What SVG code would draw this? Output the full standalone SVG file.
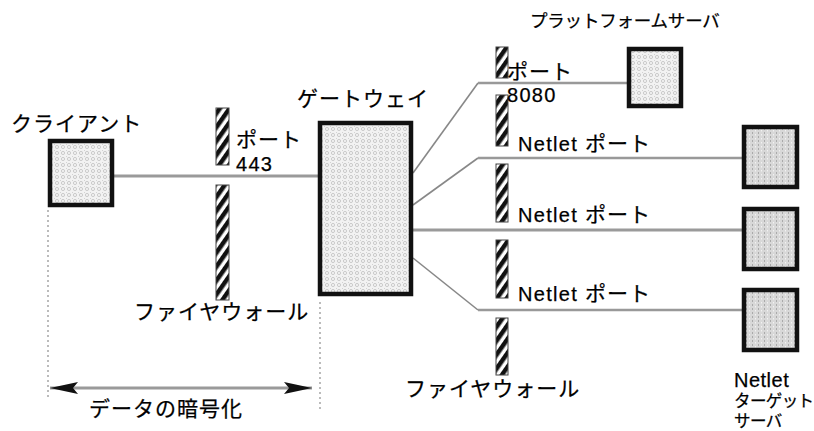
<svg xmlns="http://www.w3.org/2000/svg" width="814" height="431" viewBox="0 0 814 431">
<defs>
<pattern id="stripe" patternUnits="userSpaceOnUse" width="8" height="8" patternTransform="rotate(35)">
<rect width="8" height="8" fill="#fff"/>
<rect width="4.5" height="8" fill="#111"/>
</pattern>
<pattern id="dots" patternUnits="userSpaceOnUse" width="6" height="6">
<rect width="6" height="6" fill="#f2f2f2"/>
<circle cx="3" cy="3" r="1.6" fill="none" stroke="#c0c0c0" stroke-width="0.8"/>
<circle cx="0" cy="0" r="0.7" fill="#999"/>
</pattern>
<pattern id="vdots" patternUnits="userSpaceOnUse" width="6" height="4">
<rect width="6" height="4" fill="#d8d8d8"/>
<rect x="2" y="0" width="1" height="2" fill="#aaa"/>
<rect x="5" y="2" width="1" height="1.5" fill="#f2f2f2"/>
</pattern>
<marker id="ah" viewBox="0 0 28 12" refX="28" refY="6" markerWidth="28" markerHeight="12" markerUnits="userSpaceOnUse" orient="auto-start-reverse">
<path d="M0,0 L28,6 L0,12 L5,6 Z" fill="#111"/>
</marker>
<style>
text{font-family:"Liberation Sans","Noto Sans CJK JP",sans-serif;font-size:21px;letter-spacing:1px;fill:#000;stroke:#000;stroke-width:0.25}
.lat{font-size:20px;letter-spacing:1.3px}
.sm{font-size:16.5px;letter-spacing:-0.6px}
.box{stroke:#111;stroke-width:4.5}
.fw{fill:url(#stripe);stroke:#444;stroke-width:1}
.ln{fill:none;stroke:#9a9a9a;stroke-width:3}
.hl{fill:none;stroke:#999;stroke-width:2.5}
.thin{fill:none;stroke:#888;stroke-width:1.6}
.dot{fill:none;stroke:#bbb;stroke-width:2;stroke-dasharray:2 3}
</style>
</defs>

<g id="connectors">
<line class="ln" x1="113" y1="176" x2="318" y2="176"/>
<polyline class="thin" points="413,173 478,83"/>
<line class="hl" x1="478" y1="83" x2="627" y2="83"/>
<polyline class="thin" points="413,205 478,158"/>
<line class="hl" x1="478" y1="158" x2="742" y2="158"/>
<line class="ln" x1="413" y1="230" x2="742" y2="230"/>
<polyline class="thin" points="413,258 478,310"/>
<line class="hl" x1="478" y1="310" x2="742" y2="310"/>
<line class="dot" x1="48" y1="210" x2="48" y2="398"/>
<line class="dot" x1="320" y1="302" x2="320" y2="410"/>
<line class="ln" x1="50" y1="388" x2="312" y2="388" marker-start="url(#ah)" marker-end="url(#ah)"/>
</g>

<g id="client">
<rect class="box" x="50" y="141" width="62" height="64" fill="url(#dots)"/>
<text x="11" y="131">クライアント</text>
</g>

<g id="firewall1">
<rect class="fw" x="216" y="108" width="13" height="57"/>
<rect class="fw" x="216" y="185" width="13" height="115"/>
<text x="236" y="147">ポート</text>
<text x="236" y="171" class="lat">443</text>
<text x="134" y="319">ファイヤウォール</text>
</g>

<g id="gateway">
<rect class="box" x="320" y="123" width="91" height="171" fill="url(#dots)"/>
<text x="297" y="106">ゲートウェイ</text>
</g>

<g id="firewall2">
<rect class="fw" x="496" y="47" width="12" height="31"/>
<rect class="fw" x="496" y="95" width="12" height="51"/>
<rect class="fw" x="496" y="164" width="12" height="58"/>
<rect class="fw" x="496" y="240" width="12" height="58"/>
<rect class="fw" x="496" y="318" width="12" height="57"/>
<text x="507" y="79">ポート</text>
<text x="507" y="102" class="lat">8080</text>
<text x="518" y="151"><tspan class="lat">Netlet </tspan>ポート</text>
<text x="518" y="222"><tspan class="lat">Netlet </tspan>ポート</text>
<text x="518" y="301"><tspan class="lat">Netlet </tspan>ポート</text>
<text x="405" y="396">ファイヤウォール</text>
</g>

<g id="platform-server">
<rect class="box" x="629" y="49" width="52" height="57" fill="url(#dots)"/>
<text x="530" y="27" style="font-size:17.5px;letter-spacing:-0.2px">プラットフォームサーバ</text>
</g>

<g id="netlet-target-1">
<rect class="box" x="744" y="127" width="53" height="60" fill="url(#vdots)"/>
</g>
<g id="netlet-target-2">
<rect class="box" x="744" y="209" width="53" height="60" fill="url(#vdots)"/>
</g>
<g id="netlet-target-3">
<rect class="box" x="744" y="290" width="53" height="60" fill="url(#vdots)"/>
</g>
<g id="netlet-target-label">
<text x="734" y="387" class="lat" style="letter-spacing:0.5px">Netlet</text>
<text x="734" y="407" class="sm">ターゲット</text>
<text x="734" y="427" class="sm">サーバ</text>
</g>

<g id="encryption">
<text x="89" y="416">データの暗号化</text>
</g>
</svg>
